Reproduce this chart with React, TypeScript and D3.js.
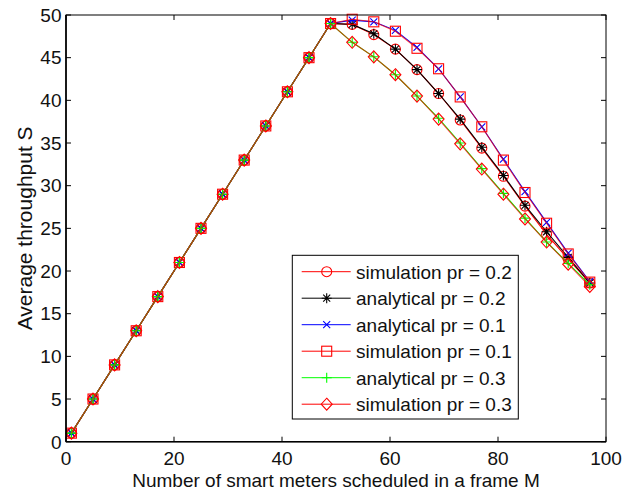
import * as d3 from "d3";

// frame size M (x axis)
const mValues = [1, 5, 9, 13, 17, 21, 25, 29, 33, 37, 41, 45, 49, 53, 57, 61, 65, 69, 73, 77, 81, 85, 89, 93, 97];

// average throughput S
const simPr02 = [1, 5, 9, 13, 17, 21, 25, 29, 33, 37, 41, 45, 49, 48.9, 47.7, 46.0, 43.6, 40.8, 37.7, 34.4, 31.1, 27.6, 24.3, 21.4, 18.6];
const anaPr02 = [1, 5, 9, 13, 17, 21, 25, 29, 33, 37, 41, 45, 49, 48.9, 47.8, 46.0, 43.6, 40.8, 37.8, 34.5, 31.2, 27.7, 24.6, 21.6, 18.6];
const anaPr01 = [1, 5, 9, 13, 17, 21, 25, 29, 33, 37, 41, 45, 49, 49.4, 49.2, 48.2, 46.2, 43.7, 40.4, 36.9, 33.1, 29.3, 25.7, 22.1, 18.75];
const simPr01 = [1, 5, 9, 13, 17, 21, 25, 29, 33, 37, 41, 45, 49, 49.5, 49.2, 48.1, 46.1, 43.7, 40.4, 36.9, 33.0, 29.2, 25.6, 22.0, 18.7];
const anaPr03 = [1, 5, 9, 13, 17, 21, 25, 29, 33, 37, 41, 45, 49, 46.8, 45.1, 43.0, 40.5, 37.9, 35.0, 32.0, 29.1, 26.2, 23.4, 20.9, 18.4];
const simPr03 = [1, 5, 9, 13, 17, 21, 25, 29, 33, 37, 41, 45, 49, 46.8, 45.1, 43.0, 40.5, 37.8, 34.9, 31.95, 29.0, 26.1, 23.4, 20.8, 18.2];

const seriesNames = [
  "simulation pr = 0.2",
  "analytical pr = 0.2",
  "analytical pr = 0.1",
  "simulation pr = 0.1",
  "analytical pr = 0.3",
  "simulation pr = 0.3",
];
const seriesValues = [simPr02, anaPr02, anaPr01, simPr01, anaPr03, simPr03];
const seriesColors = ["#ff0000", "#000000", "#0000ff", "#ff0000", "#00ff00", "#ff0000"];
const seriesMarkers = ["circle", "star", "x", "square", "plus", "diamond"];

const xTicks = [0, 20, 40, 60, 80, 100];
const yTicks = [0, 5, 10, 15, 20, 25, 30, 35, 40, 45, 50];

const W = 623;
const H = 495;
const left = 66;
const right = 606;
const top = 15;
const bottom = 441.7;
const font = "'Liberation Sans', Arial, sans-serif";
const fs = 19;

function Marker({ type, cx, cy, color }: { type: string; cx: number; cy: number; color: string }) {
  const p = { stroke: color, fill: "none", strokeWidth: 1.1 };
  if (type === "circle") return <circle cx={cx} cy={cy} r={5} {...p} />;
  if (type === "square") return <rect x={cx - 5} y={cy - 5} width={10} height={10} {...p} />;
  if (type === "diamond")
    return <path d={`M${cx},${cy - 6}L${cx + 5.5},${cy}L${cx},${cy + 6}L${cx - 5.5},${cy}Z`} {...p} />;
  if (type === "plus")
    return <path d={`M${cx - 5},${cy}H${cx + 5}M${cx},${cy - 5}V${cy + 5}`} {...p} />;
  if (type === "x")
    return <path d={`M${cx - 3.5},${cy - 3.5}L${cx + 3.5},${cy + 3.5}M${cx - 3.5},${cy + 3.5}L${cx + 3.5},${cy - 3.5}`} {...p} />;
  // star = plus + x
  return (
    <path
      d={`M${cx - 5},${cy}H${cx + 5}M${cx},${cy - 5}V${cy + 5}M${cx - 3.5},${cy - 3.5}L${cx + 3.5},${cy + 3.5}M${cx - 3.5},${cy + 3.5}L${cx + 3.5},${cy - 3.5}`}
      {...p}
    />
  );
}

export default function App() {
  const x = d3.scaleLinear().domain([0, 100]).range([left, right]);
  const y = d3.scaleLinear().domain([0, 50]).range([bottom, top]);
  const line = d3
    .line<number>()
    .x((_, i) => x(mValues[i]))
    .y((d) => y(d));

  const legX = 292.3;
  const legY = 255.3;
  const legW = 226;
  const legH = 163.7;
  const rowH = 26.5;

  return (
    <svg
      width={W}
      height={H}
      style={{ position: "absolute", left: 0, top: 0, background: "#fff" }}
      fontFamily={font}
    >
      <rect width={W} height={H} fill="#fff" />

      {/* ticks, inward on all four sides */}
      {xTicks.map((t) => (
        <g key={"xt" + t} stroke="#000" strokeWidth={1}>
          <line x1={x(t)} x2={x(t)} y1={bottom} y2={bottom - 5} />
          <line x1={x(t)} x2={x(t)} y1={top} y2={top + 5} />
        </g>
      ))}
      {yTicks.map((t) => (
        <g key={"yt" + t} stroke="#000" strokeWidth={1}>
          <line x1={left} x2={left + 5} y1={y(t)} y2={y(t)} />
          <line x1={right} x2={right - 5} y1={y(t)} y2={y(t)} />
        </g>
      ))}

      {/* series; red lines partly transparent so they blend like the original */}
      {seriesValues.map((vals, s) => (
        <g key={"s" + s}>
          <path
            d={line(vals) ?? ""}
            fill="none"
            stroke={seriesColors[s]}
            strokeOpacity={seriesColors[s] === "#ff0000" && s > 0 ? 0.72 : 1}
            strokeWidth={1.1}
          />
          {vals.map((v, i) => (
            <Marker key={i} type={seriesMarkers[s]} cx={x(mValues[i])} cy={y(v)} color={seriesColors[s]} />
          ))}
        </g>
      ))}

      {/* axes box */}
      <rect x={left} y={top} width={right - left} height={bottom - top} fill="none" stroke="#000" strokeWidth={1} />
      <line x1={left} x2={right} y1={bottom} y2={bottom} stroke="#000" strokeWidth={1.6} />
      <line x1={left} x2={left} y1={top} y2={bottom} stroke="#000" strokeWidth={1.6} />

      {/* tick labels */}
      {xTicks.map((t) => (
        <text key={"xl" + t} x={x(t)} y={bottom + 23.5} fontSize={fs} textAnchor="middle" fill="#111">
          {t}
        </text>
      ))}
      {yTicks.map((t) => (
        <text key={"yl" + t} x={left - 4.5} y={y(t) + 6.8} fontSize={fs} textAnchor="end" fill="#111">
          {t}
        </text>
      ))}

      {/* axis titles */}
      <text x={(left + right) / 2} y={487.3} fontSize={fs} textAnchor="middle" fill="#111">
        Number of smart meters scheduled in a frame M
      </text>
      <text
        transform={`translate(31.5,${(top + bottom) / 2}) rotate(-90)`}
        fontSize={21}
        textAnchor="middle"
        fill="#111"
      >
        Average throughput S
      </text>

      {/* legend */}
      <rect x={legX} y={legY} width={legW} height={legH} fill="#fff" stroke="#000" strokeWidth={1} />
      {seriesNames.map((name, s) => {
        const ry = legY + 16.4 + s * rowH;
        return (
          <g key={"lg" + s}>
            <line x1={301.7} x2={350.7} y1={ry} y2={ry} stroke={seriesColors[s]} strokeWidth={1} />
            <Marker type={seriesMarkers[s]} cx={326.7} cy={ry} color={seriesColors[s]} />
            <text x={356} y={ry + 6.8} fontSize={fs} fill="#111">
              {name}
            </text>
          </g>
        );
      })}
    </svg>
  );
}
